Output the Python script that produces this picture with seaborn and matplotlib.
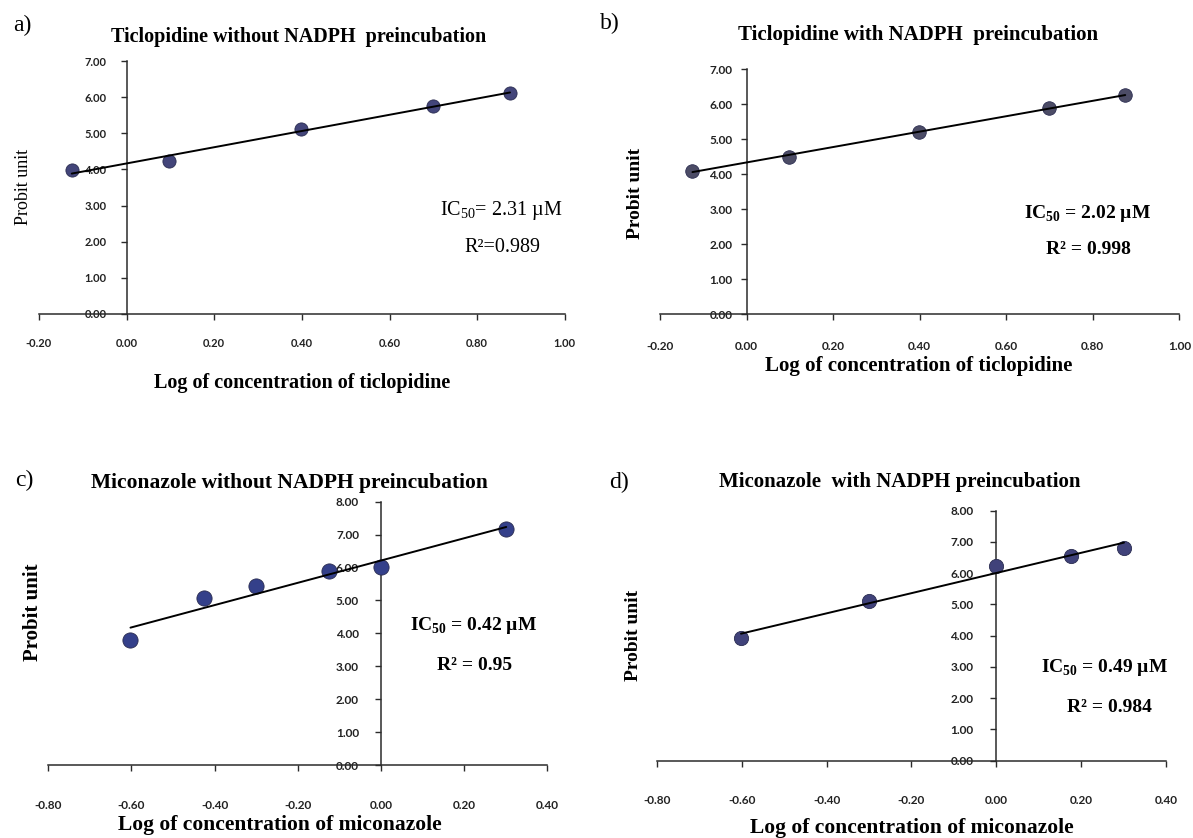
import numpy as np
import matplotlib
matplotlib.use("Agg")
import matplotlib.pyplot as plt
import seaborn as sns

# Probit analysis: log concentration vs. probit unit
ticl_logc = [-0.125, 0.097, 0.398, 0.699, 0.875]
ticl_probit_without = [3.98, 4.22, 5.12, 5.75, 6.12]
ticl_probit_with = [4.10, 4.50, 5.19, 5.89, 6.26]

mico_logc_without = [-0.602, -0.426, -0.301, -0.125, 0.0, 0.301]
mico_probit_without = [3.80, 5.06, 5.43, 5.88, 6.03, 7.17]
mico_logc_with = [-0.602, -0.301, 0.0, 0.176, 0.301]
mico_probit_with = [3.94, 5.11, 6.24, 6.55, 6.82]

ticl_xticks = [-0.20, 0.00, 0.20, 0.40, 0.60, 0.80, 1.00]
mico_xticks = [-0.80, -0.60, -0.40, -0.20, 0.00, 0.20, 0.40]
ticl_yticks = [0, 1, 2, 3, 4, 5, 6, 7]
mico_yticks = [0, 1, 2, 3, 4, 5, 6, 7, 8]

titles = ["Ticlopidine without NADPH  preincubation",
          "Ticlopidine with NADPH  preincubation",
          "Miconazole without NADPH preincubation",
          "Miconazole  with NADPH preincubation"]
panel_tags = ["a)", "b)", "c)", "d)"]
xlabels = ["Log of concentration of ticlopidine",
           "Log of concentration of ticlopidine",
           "Log of concentration of miconazole",
           "Log of concentration of miconazole"]
ic50_values = ["2.31", "2.02", "0.42", "0.49"]
r2_values = ["0.989", "0.998", "0.95", "0.984"]

sns.set_theme(style="white")
plt.rcParams["font.family"] = ["Liberation Serif", "DejaVu Serif"]
plt.rcParams["mathtext.fontset"] = "custom"
plt.rcParams["mathtext.rm"] = "Liberation Serif"
plt.rcParams["mathtext.bf"] = "Liberation Serif:bold"

W, H = 1193, 838
fig = plt.figure(figsize=(W / 100, H / 100), dpi=100)
fig.patch.set_facecolor("white")


def px(x, y):
    return x / W, 1 - y / H


panels = [
    dict(x=ticl_logc, y=ticl_probit_without, xt=ticl_xticks, yt=ticl_yticks,
         rect=(38.9, 61, 564.8, 314), color="#43457a", s=90,
         tick_fs=8, xpad=13.3, ypad=10.4,
         tag=(22, 25), title=(299, 37, 14.5), ylab=(24, 187, 13, "normal"),
         xlab=(302, 383, 14.5), ic=(501, 210, 14.5, "normal"), r2=(502, 248)),
    dict(x=ticl_logc, y=ticl_probit_with, xt=ticl_xticks, yt=ticl_yticks,
         rect=(660, 69, 1179.3, 314.3), color="#4c4c66", s=95,
         tick_fs=8.5, xpad=15.0, ypad=6.2,
         tag=(610, 23), title=(918, 35, 15), ylab=(636, 193, 14, "bold"),
         xlab=(919, 366, 15), ic=(1088, 213, 14, "bold"), r2=(1088, 250)),
    dict(x=mico_logc_without, y=mico_probit_without, xt=mico_xticks, yt=mico_yticks,
         rect=(48.1, 501.7, 547.4, 765), color="#34408a", s=120,
         tick_fs=8.5, xpad=21.2, ypad=11.8,
         tag=(24, 480), title=(289, 483, 15.5), ylab=(33, 612, 15, "bold"),
         xlab=(280, 825, 15.5), ic=(474, 626, 14, "bold"), r2=(475, 666)),
    dict(x=mico_logc_with, y=mico_probit_with, xt=mico_xticks, yt=mico_yticks,
         rect=(657, 510.7, 1166, 760.7), color="#40427a", s=105,
         tick_fs=8.5, xpad=20.8, ypad=12.6,
         tag=(619, 482), title=(900, 482, 15), ylab=(634, 635, 14, "bold"),
         xlab=(912, 828, 15.5), ic=(1105, 667, 14, "bold"), r2=(1109, 707)),
]

for i, p in enumerate(panels):
    x0, y0, x1, y1 = p["rect"]
    ax = fig.add_axes([x0 / W, 1 - y1 / H, (x1 - x0) / W, (y1 - y0) / H])
    ax.set_facecolor("none")

    sns.scatterplot(x=p["x"], y=p["y"], ax=ax, s=p["s"], color=p["color"],
                    edgecolor="#2a2c50", linewidth=0.6, zorder=3)
    sns.regplot(x=p["x"], y=p["y"], ax=ax, scatter=False, ci=None, truncate=True,
                line_kws=dict(color="black", lw=1.4, zorder=4))

    ax.set_xlim(p["xt"][0], p["xt"][-1])
    ax.set_ylim(p["yt"][0], p["yt"][-1])
    ax.set_xticks(p["xt"])
    ax.set_yticks(p["yt"])
    ax.set_xticklabels([f"{v:.2f}" for v in p["xt"]])
    ax.set_yticklabels([f"{v:.2f}" for v in p["yt"]])
    ax.set_xlabel("")
    ax.set_ylabel("")

    for side in ("top", "right"):
        ax.spines[side].set_visible(False)
    ax.spines["left"].set_position(("data", 0))
    for side in ("left", "bottom"):
        ax.spines[side].set_color("#2b2b2b")
        ax.spines[side].set_linewidth(1.1)

    ax.tick_params(axis="x", direction="out", length=4, width=1.0, color="#2b2b2b",
                   pad=p["xpad"], bottom=True)
    ax.tick_params(axis="y", direction="out", length=4, width=1.0, color="#2b2b2b",
                   pad=p["ypad"], left=True)
    for lab in ax.get_xticklabels() + ax.get_yticklabels():
        lab.set_fontfamily(["Lato", "DejaVu Sans"])
        lab.set_fontweight("bold")
        lab.set_fontsize(p["tick_fs"])
        lab.set_color("#222222")

    tx, ty = px(*p["tag"])
    fig.text(tx, ty, panel_tags[i], ha="center", va="center", fontsize=17,
             color="black")
    tx, ty = px(p["title"][0], p["title"][1])
    fig.text(tx, ty, titles[i], ha="center", va="center", fontsize=p["title"][2],
             fontweight="bold", color="black")
    tx, ty = px(p["ylab"][0], p["ylab"][1])
    fig.text(tx, ty, "Probit unit", ha="center", va="center", rotation=90,
             fontsize=p["ylab"][2], fontweight=p["ylab"][3], color="black")
    tx, ty = px(p["xlab"][0], p["xlab"][1])
    fig.text(tx, ty, xlabels[i], ha="center", va="center", fontsize=p["xlab"][2],
             fontweight="bold", color="black")

    ic_weight = p["ic"][3]
    sub = r"$_{\mathbf{50}}$" if ic_weight == "bold" else r"$_{50}$"
    eq = "= " if i == 0 else " = "
    tx, ty = px(p["ic"][0], p["ic"][1])
    fig.text(tx, ty, f"IC{sub}{eq}{ic50_values[i]} µM", ha="center", va="center",
             fontsize=p["ic"][2], fontweight=ic_weight, color="black")
    tx, ty = px(*p["r2"])
    r2eq = "R²=" if i == 0 else "R² = "
    fig.text(tx, ty, f"{r2eq}{r2_values[i]}", ha="center", va="center",
             fontsize=p["ic"][2], fontweight=ic_weight, color="black")

fig.savefig("out.png", dpi=100, facecolor="white")
